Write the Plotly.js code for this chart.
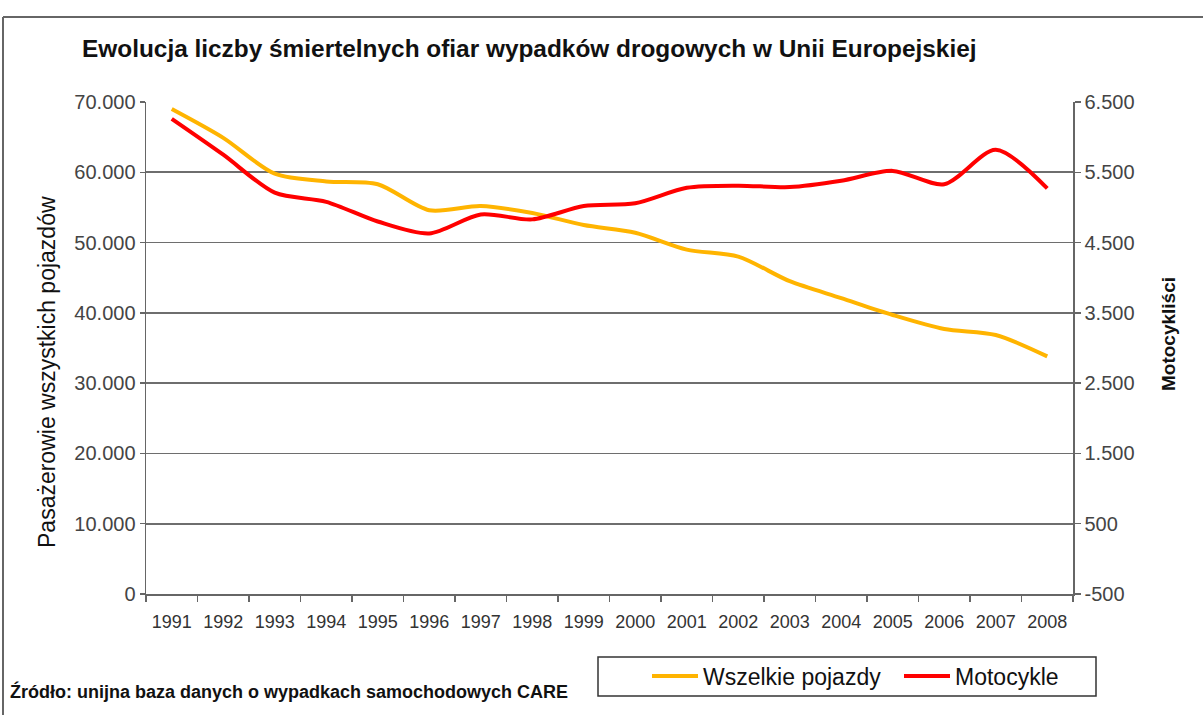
<!DOCTYPE html>
<html>
<head>
<meta charset="utf-8">
<script src="https://cdn.plot.ly/plotly-3.0.1.min.js"></script>
<style>
  html, body { margin: 0; padding: 0; background: #fff; }
  #chart { width: 1203px; height: 715px; }
</style>
</head>
<body>
<div id="chart"></div>
<script>
const years = ['1991','1992','1993','1994','1995','1996','1997','1998','1999','2000','2001','2002','2003','2004','2005','2006','2007','2008'];
const allVehicles = [69000, 64900, 59800, 58700, 58300, 54600, 55200, 54200, 52500, 51400, 49000, 48000, 44500, 42100, 39700, 37700, 36850, 33800];
const motorcycles = [6260, 5750, 5210, 5080, 4800, 4630, 4900, 4830, 5020, 5060, 5280, 5310, 5290, 5380, 5520, 5330, 5820, 5270];
const leftTicks = [0, 10000, 20000, 30000, 40000, 50000, 60000, 70000];
const leftTickText = ['0', '10.000', '20.000', '30.000', '40.000', '50.000', '60.000', '70.000'];
const rightTicks = [-500, 500, 1500, 2500, 3500, 4500, 5500, 6500];
const rightTickText = ['-500', '500', '1.500', '2.500', '3.500', '4.500', '5.500', '6.500'];
const seriesNames = ['Wszelkie pojazdy', 'Motocykle'];

const FONT = 'Liberation Sans, Arial, sans-serif';
const W = 1203, H = 715;
const M = {l: 146, r: 130, t: 102, b: 121};
const pw = W - M.l - M.r, ph = H - M.t - M.b;
const px = x => (x - M.l) / pw;
const py = y => (H - M.b - y) / ph;

const traces = [
  {x: years, y: allVehicles, name: seriesNames[0], type: 'scatter', mode: 'lines',
   line: {color: '#FFB400', width: 4, shape: 'spline', smoothing: 0.8}, yaxis: 'y'},
  {x: years, y: motorcycles, name: seriesNames[1], type: 'scatter', mode: 'lines',
   line: {color: '#FF0000', width: 4, shape: 'spline', smoothing: 0.8}, yaxis: 'y2'}
];

const layout = {
  width: W, height: H,
  margin: Object.assign({autoexpand: false}, M),
  paper_bgcolor: '#fff', plot_bgcolor: '#fff',
  font: {family: FONT, color: '#333', size: 18},
  title: {text: 'Ewolucja liczby śmiertelnych ofiar wypadków drogowych w Unii Europejskiej',
          x: 82 / W, xref: 'container', xanchor: 'left',
          y: 1 - 48 / H, yref: 'container', yanchor: 'middle',
          font: {family: FONT, size: 24.4, weight: 'bold', color: '#111'}},
  xaxis: {type: 'category', range: [-0.5, 17.5], tickson: 'boundaries',
          ticks: 'outside', ticklen: 6, tickcolor: '#666', tickwidth: 1.5,
          showline: true, linecolor: '#666', linewidth: 1.5, tickangle: 0,
          showgrid: false, zeroline: false, ticklabelstandoff: 11,
          tickfont: {family: FONT, size: 18, color: '#333'}, fixedrange: true},
  yaxis: {range: [0, 70000], tickvals: leftTicks, ticktext: leftTickText,
          ticks: 'outside', ticklen: 5, tickcolor: '#666', tickwidth: 1.5,
          showline: true, linecolor: '#666', linewidth: 1.5,
          showgrid: true, gridcolor: '#6e6e6e', gridwidth: 1.6, zeroline: false,
          tickfont: {family: FONT, size: 20, color: '#444'}, fixedrange: true},
  yaxis2: {range: [-500, 6500], tickvals: rightTicks, ticktext: rightTickText,
          overlaying: 'y', side: 'right',
          ticks: 'outside', ticklen: 6, tickcolor: '#666', tickwidth: 1.5,
          showline: true, linecolor: '#666', linewidth: 1.5,
          showgrid: false, zeroline: false,
          tickfont: {family: FONT, size: 20, color: '#444'}, fixedrange: true},
  showlegend: true,
  legend: {orientation: 'h', xref: 'container', yref: 'container',
           x: 647 / W, xanchor: 'left', y: 1 - 676 / H, yanchor: 'middle',
           bgcolor: 'rgba(0,0,0,0)', borderwidth: 0,
           font: {family: FONT, size: 23, color: '#111'}, itemwidth: 46,
           entrywidth: 191, entrywidthmode: 'pixels'},
  shapes: [
    {type: 'rect', xref: 'paper', yref: 'paper', x0: px(598), x1: px(1096), y0: py(696), y1: py(657),
     line: {color: '#333', width: 1.5}, fillcolor: 'rgba(0,0,0,0)'},
    {type: 'line', xref: 'paper', yref: 'paper', x0: px(3), x1: px(1210), y0: py(17), y1: py(17),
     line: {color: '#666', width: 2}},
    {type: 'line', xref: 'paper', yref: 'paper', x0: px(3), x1: px(3), y0: py(17), y1: py(720),
     line: {color: '#666', width: 2}}
  ],
  annotations: [
    {text: 'Pasażerowie wszystkich pojazdów', textangle: -90, xref: 'paper', yref: 'paper',
     x: px(47), y: py(372), xanchor: 'center', yanchor: 'middle', showarrow: false,
     font: {family: FONT, size: 23, color: '#111'}},
    {text: 'Motocykliści', textangle: -90, xref: 'paper', yref: 'paper',
     x: px(1168), y: py(334), xanchor: 'center', yanchor: 'middle', showarrow: false,
     font: {family: FONT, size: 19, weight: 'bold', color: '#111'}},
    {text: 'Źródło: unijna baza danych o wypadkach samochodowych CARE', xref: 'paper', yref: 'paper',
     x: px(8), y: py(691), xanchor: 'left', yanchor: 'middle', showarrow: false,
     font: {family: FONT, size: 18, weight: 'bold', color: '#111'}}
  ]
};

Plotly.newPlot('chart', traces, layout, {displayModeBar: false, staticPlot: true});
</script>
</body>
</html>
